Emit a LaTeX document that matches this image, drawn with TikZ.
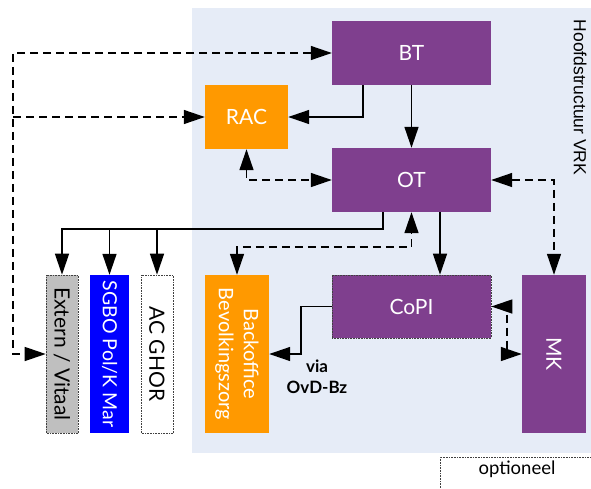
\documentclass[tikz,border=0pt]{standalone}
\usepackage{fontspec}
\setmainfont{Lato}
\newfontfamily\arialfont{Liberation Sans}
\usetikzlibrary{arrows.meta}
\definecolor{vrkpurple}{RGB}{127,63,142}
\definecolor{vrkorange}{RGB}{255,153,0}
\definecolor{vrkbg}{RGB}{230,236,247}
\definecolor{vrkgray}{RGB}{191,191,191}
\definecolor{vrkblue}{RGB}{0,0,255}
\begin{document}
\begin{tikzpicture}[x=1pt,y=-1pt,
 >={Triangle[length=21pt,width=14pt]},
 box/.style={inner sep=0pt,text=white,font=\fontsize{21}{25}\selectfont},
 purplebox/.style={box,fill=vrkpurple},
 orangebox/.style={box,fill=vrkorange},
 optbox/.style={draw=black!75,densely dotted,line width=0.6pt},
 sideways/.style={rotate=-90,align=center},
 sl/.style={line width=1.4pt},
 dl/.style={line width=1.4pt,dash pattern=on 8pt off 5pt}]
 \useasboundingbox (0,0) rectangle (591,488);
 \fill[vrkbg] (192,8) rectangle (591,453);
 \node[font=\arialfont\fontsize{17.5}{20}\selectfont,rotate=-90] (hs) at (580,97.5) {Hoofdstructuur VRK};
 \node[purplebox,minimum width=159pt,minimum height=64pt] (BT) at (411.5,53) {BT};
 \node[purplebox,minimum width=159pt,minimum height=64pt] (OT) at (411.5,180) {OT};
 \node[orangebox,minimum width=83pt,minimum height=64pt] (RAC) at (246.5,117) {RAC};
 \node[purplebox,optbox,minimum width=159pt,minimum height=63pt] (CoPI) at (411.5,306.5) {\textcolor{white}{CoPI}};
 \node[purplebox,minimum width=158pt,minimum height=64pt,rotate=-90] (MK) at (554,354) {MK};
 \node[orangebox,minimum width=158pt,minimum height=64pt,sideways,font=\fontsize{20}{25}\selectfont] (Back) at (237,354) {Backoffice\\Bevolkingszorg};
 \node[box,optbox,fill=vrkgray,text=black,minimum width=158pt,minimum height=32pt,sideways] (Extern) at (62,354) {\textcolor{black}{Extern / Vitaal}};
 \node[box,fill=vrkblue,minimum width=158pt,minimum height=39pt,sideways,font=\fontsize{19.5}{24}\selectfont] (SGBO) at (109.5,354) {SGBO Pol/K Mar};
 \node[box,optbox,fill=white,text=black,minimum width=158pt,minimum height=32pt,sideways] (ACGHOR) at (157,354) {\textcolor{black}{AC GHOR}};
 \node[optbox,fill=white,minimum width=160pt,minimum height=40pt,inner sep=0pt] (opt) at (520,477) {};
 \node[font=\fontsize{18.5}{20}\selectfont] (optlabel) at (517,469) {optioneel};
 \node[font=\bfseries\fontsize{17}{21}\selectfont,align=center] (vialabel) at (317,377) {via\\OvD-Bz};
 \coordinate (lft) at (13,117);
 \coordinate (bus) at (62,229);
 \coordinate (bk) at (411.5,247);
 \coordinate (via) at (301,306.5);
 \coordinate (cm) at (507,306.5);
 \draw[dl,<->] (BT.west) -| (lft) |- (Extern.south);
 \draw[dl,->] (lft) -- (RAC.west);
 \draw[sl,->] ([xshift=-48.5pt]BT.south) |- (RAC.east);
 \draw[sl,->] (BT.south) -- (OT.north);
 \draw[dl,<->] (RAC.south) |- (OT.west);
 \draw[dl,<->] (OT.east) -| (MK.west);
 \draw[sl,->] ([xshift=-28.5pt]OT.south) |- (bus) -- (Extern.west);
 \draw[sl,->] (bus -| SGBO) -- (SGBO.west);
 \draw[sl,->] (bus -| ACGHOR) -- (ACGHOR.west);
 \draw[dl,<->] (Back.west) |- (bk) -- (OT.south);
 \draw[sl,->] ([xshift=28.5pt]OT.south) -- ([xshift=28.5pt]CoPI.north);
 \draw[sl,->] (CoPI.west) -- (via) |- (Back.north);
 \draw[dl,<->] (CoPI.east) -- (cm) |- (MK.south);
\end{tikzpicture}
\end{document}
